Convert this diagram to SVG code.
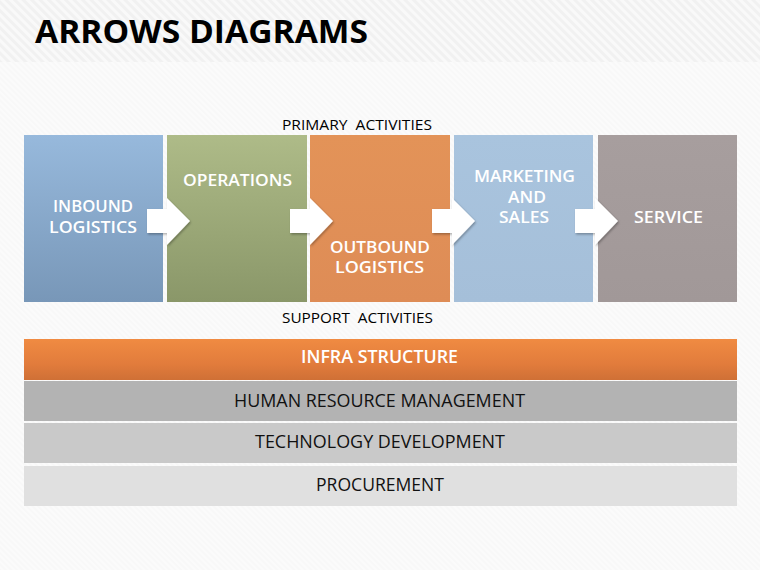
<svg xmlns="http://www.w3.org/2000/svg" width="760" height="570" viewBox="0 0 760 570">
<defs>
<pattern id="stripes" width="6" height="6" patternUnits="userSpaceOnUse" patternTransform="rotate(-45)">
<rect width="6" height="6" fill="#f1f1f1"/>
<rect width="3" height="6" fill="#f9f9f9"/>
</pattern>
<pattern id="bgtex" width="4" height="4" patternUnits="userSpaceOnUse" patternTransform="rotate(-45)">
<rect width="4" height="4" fill="#fbfbfb"/>
<rect width="2" height="4" fill="#f8f8f8"/>
</pattern>
<linearGradient id="gBlue" x1="0" y1="0" x2="0" y2="1"><stop offset="0" stop-color="#97b9dc"/><stop offset="1" stop-color="#7897b8"/></linearGradient>
<linearGradient id="gOlive" x1="0" y1="0" x2="0" y2="1"><stop offset="0" stop-color="#aebb88"/><stop offset="1" stop-color="#8a9769"/></linearGradient>
<linearGradient id="gOrange" x1="0" y1="0" x2="0" y2="1"><stop offset="0" stop-color="#e39358"/><stop offset="1" stop-color="#de8c56"/></linearGradient>
<linearGradient id="gLBlue" x1="0" y1="0" x2="0" y2="1"><stop offset="0" stop-color="#a9c4de"/><stop offset="1" stop-color="#a5bfd9"/></linearGradient>
<linearGradient id="gGray" x1="0" y1="0" x2="0" y2="1"><stop offset="0" stop-color="#a79e9e"/><stop offset="1" stop-color="#a19898"/></linearGradient>
<linearGradient id="gInfra" x1="0" y1="0" x2="0" y2="1"><stop offset="0" stop-color="#f08b42"/><stop offset="0.6" stop-color="#e27c3c"/><stop offset="1" stop-color="#cf7036"/></linearGradient>
<filter id="sh" x="-20%" y="-20%" width="150%" height="150%">
<feDropShadow dx="1" dy="1.5" stdDeviation="1" flood-color="#000" flood-opacity="0.3"/>
</filter>
<path id="arrow" d="M0,11 H20 V0 L43,23 L20,47 V35 H0 Z"/>
</defs>
<style>
.t{font-family:"Open Sans","DejaVu Sans",sans-serif;}
.box{font-size:17px;fill:#ffffff;font-weight:600;}
.lbl{font-size:14px;fill:#000;}
.bar{font-size:18px;fill:#111;font-weight:500;}
.wbar{fill:#ffffff;font-weight:600;}
.arr{fill:#ffffff;filter:url(#sh);}
</style>
<rect width="760" height="570" fill="url(#bgtex)"/>
<rect width="760" height="62" fill="url(#stripes)"/>
<text class="t" x="35" y="43" font-size="33" font-weight="bold" fill="#000" textLength="333" lengthAdjust="spacingAndGlyphs">ARROWS DIAGRAMS</text>

<text class="t lbl" x="282" y="130" textLength="150" lengthAdjust="spacingAndGlyphs" xml:space="preserve">PRIMARY  ACTIVITIES</text>
<text class="t lbl" x="282" y="323" textLength="151" lengthAdjust="spacingAndGlyphs" xml:space="preserve">SUPPORT  ACTIVITIES</text>

<g id="inbound">
<rect x="24" y="135" width="139" height="167" fill="url(#gBlue)"/>
<text class="t box" x="53" y="212" textLength="80" lengthAdjust="spacingAndGlyphs">INBOUND</text>
<text class="t box" x="49" y="233" textLength="88" lengthAdjust="spacingAndGlyphs">LOGISTICS</text>
</g>
<g id="operations">
<rect x="167" y="135" width="140" height="167" fill="url(#gOlive)"/>
<text class="t box" x="183" y="186" textLength="109" lengthAdjust="spacingAndGlyphs">OPERATIONS</text>
</g>
<g id="outbound">
<rect x="310" y="135" width="140" height="167" fill="url(#gOrange)"/>
<text class="t box" x="330" y="253" textLength="100" lengthAdjust="spacingAndGlyphs">OUTBOUND</text>
<text class="t box" x="335" y="273" textLength="89" lengthAdjust="spacingAndGlyphs">LOGISTICS</text>
</g>
<g id="marketing">
<rect x="454" y="135" width="139" height="167" fill="url(#gLBlue)"/>
<text class="t box" x="474" y="182" textLength="101" lengthAdjust="spacingAndGlyphs">MARKETING</text>
<text class="t box" x="508" y="203" textLength="38" lengthAdjust="spacingAndGlyphs">AND</text>
<text class="t box" x="499" y="223" textLength="50" lengthAdjust="spacingAndGlyphs">SALES</text>
</g>
<g id="service">
<rect x="598" y="135" width="139" height="167" fill="url(#gGray)"/>
<text class="t box" x="634" y="223" textLength="69" lengthAdjust="spacingAndGlyphs">SERVICE</text>
</g>

<g id="connectors">
<use href="#arrow" class="arr" x="147" y="198"/>
<use href="#arrow" class="arr" x="290" y="198"/>
<use href="#arrow" class="arr" x="432" y="198"/>
<use href="#arrow" class="arr" x="575" y="198"/>
</g>

<g id="infra">
<rect x="24" y="339" width="713" height="41" fill="url(#gInfra)"/>
<text class="t bar wbar" x="301" y="363" textLength="157" lengthAdjust="spacingAndGlyphs">INFRA STRUCTURE</text>
</g>
<g id="hrm">
<rect x="24" y="381" width="713" height="40" fill="#b3b3b3"/>
<text class="t bar" x="234" y="407" textLength="291" lengthAdjust="spacingAndGlyphs">HUMAN RESOURCE MANAGEMENT</text>
</g>
<g id="tech">
<rect x="24" y="423" width="713" height="40" fill="#c9c9c9"/>
<text class="t bar" x="255" y="448" textLength="250" lengthAdjust="spacingAndGlyphs">TECHNOLOGY DEVELOPMENT</text>
</g>
<g id="procurement">
<rect x="24" y="466" width="713" height="40" fill="#e0e0e0"/>
<text class="t bar" x="316" y="491" textLength="128" lengthAdjust="spacingAndGlyphs">PROCUREMENT</text>
</g>
</svg>
